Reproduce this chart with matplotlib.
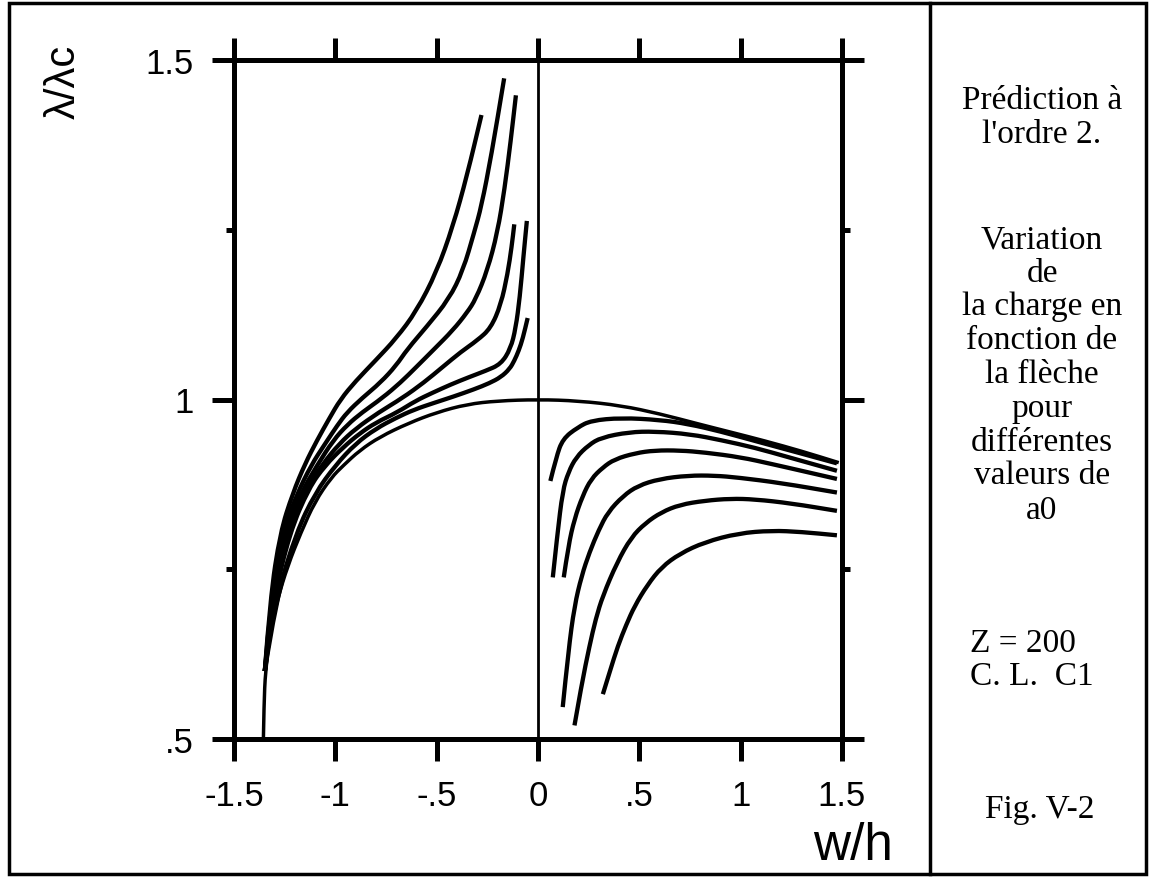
import matplotlib
matplotlib.use("Agg")
import matplotlib.pyplot as plt
from matplotlib.patches import Rectangle, PathPatch
from matplotlib.lines import Line2D
from matplotlib.path import Path

# ---------------- data ----------------
# perfect structure curve (a0 = 0), continuous from left branch to right branch
base_w = [-1.355, -1.352, -1.345, -1.320, -1.285, -1.235, -1.170, -1.100, -1.020, -0.960,
          -0.880, -0.780, -0.640, -0.500, -0.350, -0.200, 0.0,
          0.200, 0.411, 0.600, 0.791, 0.950, 1.120, 1.300, 1.484]
base_l = [0.500, 0.550, 0.600, 0.660, 0.706, 0.755, 0.804, 0.850, 0.885, 0.903,
          0.925, 0.945, 0.965, 0.981, 0.993, 0.998, 1.000,
          0.998, 0.991, 0.979, 0.964, 0.952, 0.939, 0.924, 0.907]

# left branch (w < 0), imperfect curves
L1_w = [-1.348, -1.322, -1.272, -1.21, -1.15, -1.09, -1.03, -0.975, -0.90, -0.80, -0.70, -0.60, -0.50, -0.42, -0.35, -0.279]
L1_l = [0.600, 0.706, 0.804, 0.862, 0.905, 0.940, 0.972, 1.000, 1.027, 1.058, 1.090, 1.130, 1.188, 1.255, 1.330, 1.419]

L2_w = [-1.348, -1.318, -1.262, -1.19, -1.12, -1.05, -0.99, -0.942, -0.868, -0.777, -0.70, -0.645, -0.55, -0.439, -0.37, -0.315, -0.279, -0.23, -0.167]
L2_l = [0.600, 0.706, 0.804, 0.860, 0.903, 0.935, 0.962, 0.981, 1.002, 1.025, 1.050, 1.074, 1.107, 1.148, 1.190, 1.246, 1.285, 1.360, 1.473]

L3_w = [-1.348, -1.313, -1.25, -1.17, -1.09, -1.01, -0.94, -0.868, -0.769, -0.678, -0.60, -0.513, -0.42, -0.35, -0.307, -0.25, -0.200, -0.165, -0.135, -0.109]
L3_l = [0.600, 0.706, 0.804, 0.862, 0.903, 0.940, 0.963, 0.981, 1.002, 1.025, 1.048, 1.074, 1.102, 1.128, 1.148, 1.190, 1.246, 1.310, 1.380, 1.448]

L4_w = [-1.348, -1.308, -1.24, -1.14, -1.06, -0.98, -0.90, -0.786, -0.670, -0.563, -0.47, -0.381, -0.30, -0.233, -0.183, -0.150, -0.130, -0.117]
L4_l = [0.600, 0.706, 0.804, 0.870, 0.906, 0.935, 0.957, 0.981, 1.002, 1.025, 1.048, 1.070, 1.087, 1.105, 1.140, 1.185, 1.225, 1.258]

L5_w = [-1.348, -1.303, -1.225, -1.13, -1.05, -0.96, -0.88, -0.80, -0.695, -0.604, -0.52, -0.431, -0.34, -0.26, -0.183, -0.135, -0.110, -0.090, -0.072, -0.055]
L5_l = [0.600, 0.706, 0.804, 0.870, 0.903, 0.930, 0.950, 0.966, 0.981, 0.998, 1.010, 1.022, 1.033, 1.042, 1.052, 1.075, 1.105, 1.150, 1.210, 1.263]

L6_w = [-1.348, -1.293, -1.193, -1.10, -1.00, -0.90, -0.80, -0.70, -0.612, -0.513, -0.42, -0.315, -0.24, -0.183, -0.140, -0.117, -0.095, -0.075, -0.051]
L6_l = [0.600, 0.706, 0.804, 0.862, 0.903, 0.935, 0.957, 0.973, 0.985, 0.995, 1.004, 1.015, 1.024, 1.033, 1.045, 1.057, 1.072, 1.090, 1.120]

# right branch (w > 0), imperfect curves
R1_w = [0.061, 0.090, 0.122, 0.196, 0.262, 0.411, 0.600, 0.741, 0.900, 1.070, 1.280, 1.475]
R1_l = [0.880, 0.915, 0.942, 0.959, 0.969, 0.973, 0.970, 0.964, 0.953, 0.939, 0.922, 0.906]

R2_w = [0.073, 0.095, 0.122, 0.150, 0.188, 0.250, 0.312, 0.450, 0.576, 0.750, 0.906, 1.070, 1.236, 1.475]
R2_l = [0.738, 0.800, 0.866, 0.893, 0.915, 0.933, 0.944, 0.952, 0.953, 0.949, 0.940, 0.929, 0.915, 0.895]

R3_w = [0.127, 0.150, 0.180, 0.220, 0.262, 0.320, 0.378, 0.480, 0.576, 0.700, 0.823, 1.000, 1.153, 1.300, 1.475]
R3_l = [0.738, 0.785, 0.824, 0.858, 0.883, 0.900, 0.912, 0.921, 0.925, 0.925, 0.922, 0.915, 0.905, 0.895, 0.883]

R4_w = [0.122, 0.150, 0.180, 0.215, 0.254, 0.300, 0.345, 0.420, 0.493, 0.600, 0.741, 0.870, 0.989, 1.200, 1.475]
R4_l = [0.547, 0.630, 0.696, 0.740, 0.775, 0.808, 0.834, 0.858, 0.873, 0.883, 0.888, 0.888, 0.885, 0.877, 0.863]

R5_w = [0.180, 0.215, 0.254, 0.285, 0.320, 0.390, 0.460, 0.530, 0.609, 0.700, 0.823, 0.950, 1.070, 1.250, 1.475]
R5_l = [0.520, 0.580, 0.637, 0.677, 0.711, 0.760, 0.797, 0.818, 0.834, 0.845, 0.851, 0.854, 0.853, 0.847, 0.836]

R6_w = [0.320, 0.355, 0.394, 0.435, 0.477, 0.540, 0.609, 0.700, 0.823, 0.989, 1.153, 1.300, 1.475]
R6_l = [0.566, 0.600, 0.637, 0.668, 0.696, 0.727, 0.753, 0.773, 0.790, 0.803, 0.807, 0.805, 0.800]

x_ticks = [-1.5, -1.0, -0.5, 0.0, 0.5, 1.0, 1.5]
x_tick_labels = ["-1.5", "-1", "-.5", "0", ".5", "1", "1.5"]
y_ticks = [0.5, 1.0, 1.5]
y_tick_labels = [".5", "1", "1.5"]
y_minor = [0.75, 1.25]

side_lines = [
    ("Prédiction à", 97), ("l'ordre 2.", 131),
    ("Variation", 237), ("de", 270), ("la charge en", 303), ("fonction de", 337),
    ("la flèche", 371), ("pour", 405), ("différentes", 439), ("valeurs de", 472),
    ("a0", 507),
]
side_left_lines = [("Z = 200", 640), ("C. L.  C1", 673)]
fig_label = ("Fig. V-2", 806)


def smooth_curve(ax, xs, ys, lw):
    """Draw a smooth stroke through the read points (quadratic Bezier through midpoints)."""
    verts = [(xs[0], ys[0])]
    codes = [Path.MOVETO]
    for i in range(1, len(xs) - 1):
        verts.append((xs[i], ys[i]))
        verts.append(((xs[i] + xs[i + 1]) / 2, (ys[i] + ys[i + 1]) / 2))
        codes += [Path.CURVE3, Path.CURVE3]
    verts.append((xs[-1], ys[-1]))
    codes.append(Path.LINETO)
    patch = PathPatch(Path(verts, codes), fill=False, lw=lw, ec="black",
                      capstyle="butt", joinstyle="round", transform=ax.transData)
    ax.add_patch(patch)


# ---------------- figure ----------------
W, H = 1150, 879
fig = plt.figure(figsize=(W / 100, H / 100), dpi=100)
fig.patch.set_facecolor("white")

ax = fig.add_axes([234 / W, 1 - 740 / H, (842 - 234) / W, (740 - 61) / H])
ax.set_xlim(-1.5, 1.5)
ax.set_ylim(0.5, 1.5)

smooth_curve(ax, base_w, base_l, 2.5)
for xs, ys in [(L1_w, L1_l), (L2_w, L2_l), (L3_w, L3_l), (L4_w, L4_l), (L5_w, L5_l), (L6_w, L6_l),
               (R1_w, R1_l), (R2_w, R2_l), (R3_w, R3_l), (R4_w, R4_l), (R5_w, R5_l), (R6_w, R6_l)]:
    smooth_curve(ax, xs, ys, 3.1)

ax.axvline(0, color="black", lw=2.0)

for s in ax.spines.values():
    s.set_linewidth(3.6)
    s.set_color("black")

ax.set_xticks(x_ticks)
ax.set_xticklabels(x_tick_labels)
ax.set_yticks(y_ticks)
ax.set_yticklabels(y_tick_labels)
ax.set_yticks(y_minor, minor=True)
ax.tick_params(axis="both", which="major", direction="out", length=16, width=3.6,
               top=True, right=True, labelsize=25, pad=13)
ax.tick_params(axis="y", which="minor", direction="out", length=6, width=3.6,
               left=True, right=True)
for lab in ax.get_xticklabels() + ax.get_yticklabels():
    lab.set_family("Liberation Sans")

fig.text(64 / W, 1 - 82 / H, "λ/λc", rotation=90, ha="center", va="center",
         fontsize=30, family="Liberation Sans")
fig.text(893 / W, 1 - 847 / H, "w/h", ha="right", va="center",
         fontsize=37, family="Liberation Sans")

# ---------------- frame and side panel ----------------
fig.add_artist(Rectangle((9 / W, 4 / H), (1146 - 9) / W, (875 - 4) / H,
                         transform=fig.transFigure, fill=False, lw=2.5, ec="black"))
fig.add_artist(Line2D([930 / W, 930 / W], [4 / H, 875 / H], transform=fig.transFigure,
                      color="black", lw=2.5))

for txt, yp in side_lines:
    fig.text(1042 / W, 1 - yp / H, txt, ha="center", va="center_baseline",
             fontsize=24, family="Liberation Serif")
for txt, yp in side_left_lines:
    fig.text(970 / W, 1 - yp / H, txt, ha="left", va="center_baseline",
             fontsize=24, family="Liberation Serif")
fig.text(1040 / W, 1 - fig_label[1] / H, fig_label[0], ha="center", va="center_baseline",
         fontsize=24, family="Liberation Serif")

fig.savefig("out.png", dpi=100, facecolor="white")
